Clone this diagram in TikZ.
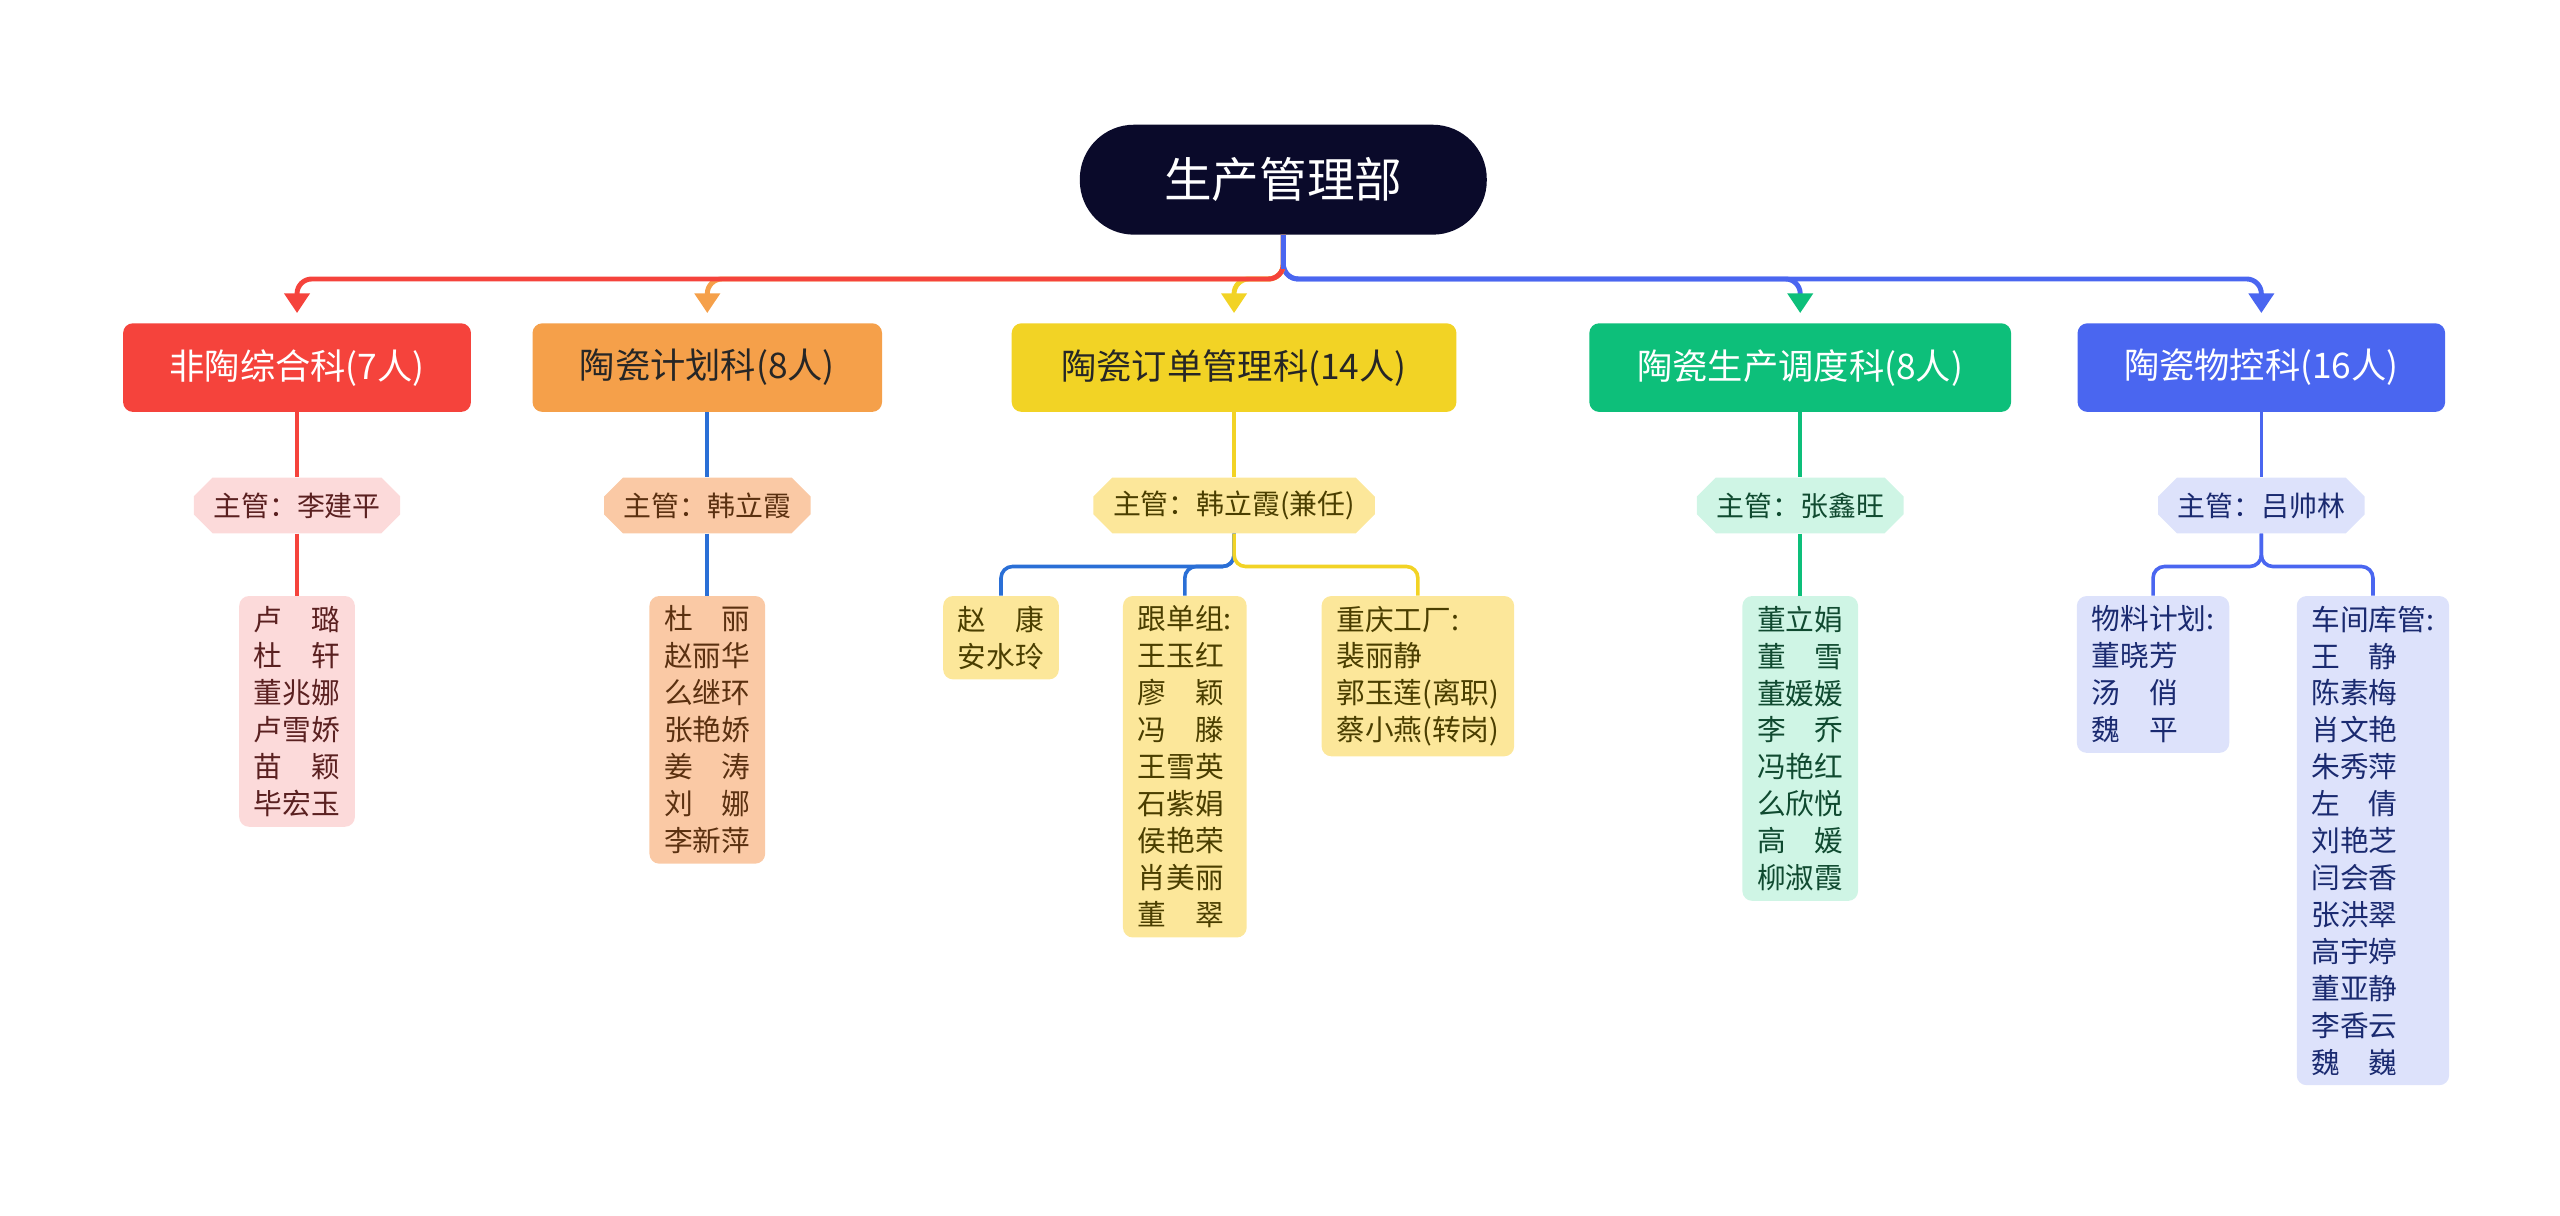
\documentclass[tikz,border=0pt]{standalone}
\usepackage{fontspec}
\setmainfont{Noto Sans CJK SC}
\usetikzlibrary{arrows.meta,shapes.misc}
\definecolor{croot}{HTML}{0A0A2A}
\definecolor{cred}{HTML}{F5433C}
\definecolor{cora}{HTML}{F5A04A}
\definecolor{cyel}{HTML}{F2D325}
\definecolor{cgre}{HTML}{0DBF7A}
\definecolor{cblu}{HTML}{4A66F0}
\definecolor{cline}{HTML}{2A6FD6}
\definecolor{lred}{HTML}{FCDADA}
\definecolor{lora}{HTML}{FAC9A5}
\definecolor{lyel}{HTML}{FCE79A}
\definecolor{lgre}{HTML}{CFF5E5}
\definecolor{lblu}{HTML}{DDE2FB}
\definecolor{tred}{HTML}{5A2020}
\definecolor{tora}{HTML}{5A3010}
\definecolor{tyel}{HTML}{4A3E00}
\definecolor{tgre}{HTML}{104A30}
\definecolor{tblu}{HTML}{1A2A70}
\tikzset{
 x=1pt,y=1pt,
 dept/.style={rounded corners=6pt,minimum height=54pt,inner sep=0pt,font=\fontsize{21.5}{24}\selectfont},
 sup/.style={chamfered rectangle,chamfered rectangle xsep=8pt,minimum height=34pt,inner xsep=4pt,inner ysep=0pt,font=\fontsize{17}{20}\selectfont},
 lst/.style={rounded corners=6pt,anchor=north,align=left,inner xsep=9pt,inner ysep=6pt,font=\fontsize{17.5}{22.5}\selectfont},
 conn/.style={line width=3pt,rounded corners=9pt,-{Triangle[width=15pt,length=12pt]},shorten >=6pt},
 sl/.style={line width=2.2pt,rounded corners=7pt}
}
\begin{document}
\begin{tikzpicture}
\useasboundingbox (0,0) rectangle (1560,-741);
\node[fill=croot,rounded corners=33pt,minimum width=248pt,minimum height=67pt,text=white,font=\fontsize{29}{32}\selectfont] (root) at (782,-109.5) {生产管理部};
\node[dept,fill=cred,text=white,minimum width=212pt] (d1) at (181,-224) {非陶综合科(7人)};
\node[dept,fill=cora,text=black!85,minimum width=213pt] (d2) at (431,-224) {陶瓷计划科(8人)};
\node[dept,fill=cyel,text=black!85,minimum width=271pt] (d3) at (752,-224) {陶瓷订单管理科(14人)};
\node[dept,fill=cgre,text=white,minimum width=257pt] (d4) at (1097,-224) {陶瓷生产调度科(8人)};
\node[dept,fill=cblu,text=white,minimum width=224pt] (d5) at (1378,-224) {陶瓷物控科(16人)};
\coordinate (bus) at (782,-170);
\draw[conn,cblu] (root.south) |- (1000,-170) -| (d5.north);
\draw[conn,cblu,-{Triangle[width=15pt,length=12pt,fill=cgre,color=cgre]}] (root.south) |- (d4.north |- bus) -- (d4.north);
\draw[conn,cyel] (root.south) |- (d3.north |- bus) -- (d3.north);
\draw[conn,cora] (root.south) |- (d2.north |- bus) -- (d2.north);
\draw[conn,cred] (root.south) |- (d1.north |- bus) -- (d1.north);
\draw[conn,cblu,-] (root.south) -- (bus);
\node[sup,fill=lred,text=tred] (s1) at (181,-308) {主管：李建平};
\node[sup,fill=lora,text=tora] (s2) at (431,-308) {主管：韩立霞};
\node[sup,fill=lyel,text=tyel] (s3) at (752,-308) {主管：韩立霞(兼任)};
\node[sup,fill=lgre,text=tgre] (s4) at (1097,-308) {主管：张鑫旺};
\node[sup,fill=lblu,text=tblu] (s5) at (1378,-308) {主管：吕帅林};
\node[lst,fill=lred,text=tred] (l1) at (181,-363) {卢　璐\\杜　轩\\董兆娜\\卢雪娇\\苗　颖\\毕宏玉};
\node[lst,fill=lora,text=tora] (l2) at (431,-363) {杜　丽\\赵丽华\\么继环\\张艳娇\\姜　涛\\刘　娜\\李新萍};
\node[lst,fill=lyel,text=tyel] (y1) at (610,-363) {赵　康\\安水玲};
\node[lst,fill=lyel,text=tyel] (y2) at (722,-363) {跟单组:\\王玉红\\廖　颖\\冯　滕\\王雪英\\石紫娟\\侯艳荣\\肖美丽\\董　翠};
\node[lst,fill=lyel,text=tyel] (y3) at (864,-363) {重庆工厂:\\裴丽静\\郭玉莲(离职)\\蔡小燕(转岗)};
\node[lst,fill=lgre,text=tgre] (l4) at (1097,-363) {董立娟\\董　雪\\董媛媛\\李　乔\\冯艳红\\么欣悦\\高　媛\\柳淑霞};
\node[lst,fill=lblu,text=tblu] (b1) at (1312,-363) {物料计划:\\董晓芳\\汤　俏\\魏　平};
\node[lst,fill=lblu,text=tblu] (b2) at (1446,-363) {车间库管:\\王　静\\陈素梅\\肖文艳\\朱秀萍\\左　倩\\刘艳芝\\闫会香\\张洪翠\\高宇婷\\董亚静\\李香云\\魏　巍};
\draw[sl,cred] (d1.south) -- (s1.north);
\draw[sl,cred] (s1.south) -- (l1.north);
\draw[sl,cline] (d2.south) -- (s2.north);
\draw[sl,cline] (s2.south) -- (l2.north);
\draw[sl,cyel] (d3.south) -- (s3.north);
\draw[sl,cline] (s3.south) -- ++(0,-20) -| (y1.north);
\draw[sl,cline] (s3.south) -- ++(0,-20) -| (y2.north);
\draw[sl,cyel] (s3.south) -- ++(0,-20) -| (y3.north);
\draw[sl,cgre] (d4.south) -- (s4.north);
\draw[sl,cgre] (s4.south) -- (l4.north);
\draw[sl,cblu] (d5.south) -- (s5.north);
\draw[sl,cblu] (s5.south) -- ++(0,-20) -| (b1.north);
\draw[sl,cblu] (s5.south) -- ++(0,-20) -| (b2.north);
\end{tikzpicture}
\end{document}
